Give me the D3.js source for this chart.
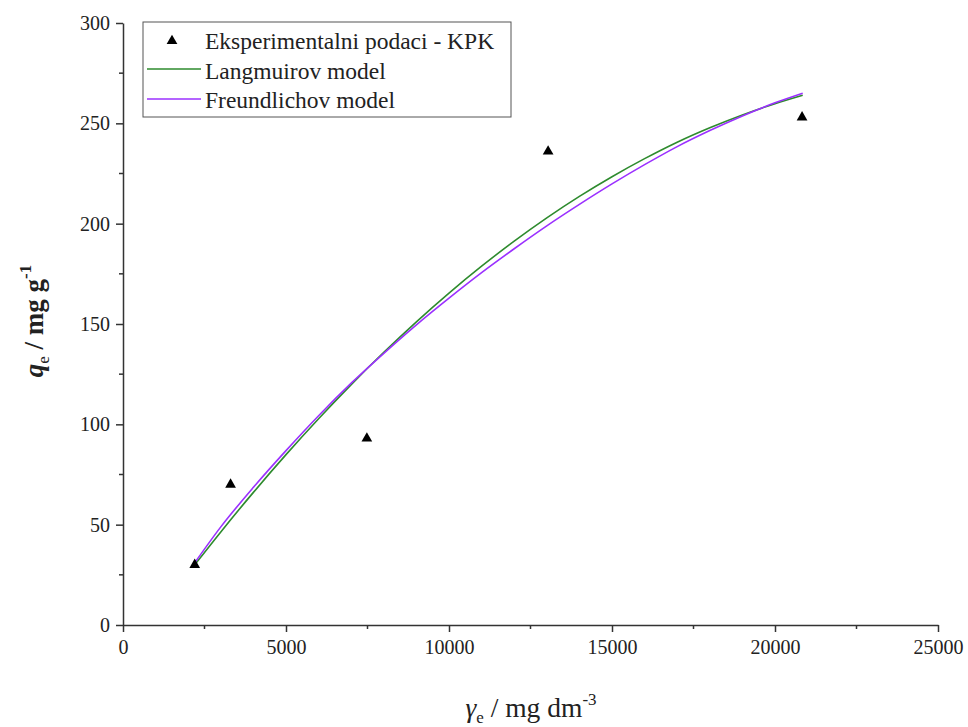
<!DOCTYPE html>
<html lang="hr">
  <head>
    <meta charset="UTF-8">
    <title>Adsorpcijske izoterme - KPK</title>
    <script src="https://d3js.org/d3.v7.min.js"></script>
    <style>
      body { margin: 0; background: #fff; }
      svg text { font-family: "Liberation Serif", "Times New Roman", "DejaVu Serif", serif; fill: #222; }
    </style>
  </head>
  <body>
    <script>
      // experimental points (gamma_e, q_e)
      const expX = [2200, 3300, 7480, 13040, 20830];
      const expY = [30, 70, 93, 236, 253];

      // model curves
      const modelX = [2200, 3000, 4000, 5000, 6000, 7000, 8000, 9000, 10000, 11000,
                      12000, 13000, 14000, 15000, 16000, 17000, 18000, 19000, 20000, 20850];
      const langmuirY = [30, 46.4, 66.1, 84.9, 102.8, 119.8, 135.9, 151.1, 165.4, 178.8,
                         191.3, 202.9, 213.6, 223.4, 232.4, 240.6, 247.8, 254.2, 259.8, 264];
      const freundlichY = [31, 48.9, 68.6, 86.9, 104.3, 120.5, 135.4, 149.6, 162.9, 175.6,
                           187.5, 198.9, 209.6, 219.8, 229.4, 238.4, 246.4, 253.7, 260.2, 265];

      const xTicks = [0, 5000, 10000, 15000, 20000, 25000];
      const yTicks = [0, 50, 100, 150, 200, 250, 300];

      const w = 968, h = 727;
      const mLeft = 123, mTop = 23, mRight = 938, mBottom = 625;

      const svg = d3.select("body").append("svg")
        .attr("width", w)
        .attr("height", h);

      const x = d3.scaleLinear().domain([0, 25000]).range([mLeft, mRight]);
      const y = d3.scaleLinear().domain([0, 300]).range([mBottom, mTop]);

      // minor ticks
      const xMinor = d3.range(2500, 25000, 5000);
      const yMinor = d3.range(25, 300, 50);

      const xAxis = svg.append("g")
        .attr("transform", `translate(0,${mBottom})`)
        .call(d3.axisBottom(x).tickValues(xTicks).tickSize(7).tickSizeOuter(0).tickPadding(8).tickFormat(d3.format("d")));
      xAxis.selectAll(".minor").data(xMinor).enter().append("line")
        .attr("class", "minor")
        .attr("x1", d => x(d)).attr("x2", d => x(d))
        .attr("y1", 0).attr("y2", 4)
        .attr("stroke", "#333");

      const yAxis = svg.append("g")
        .attr("transform", `translate(${mLeft},0)`)
        .call(d3.axisLeft(y).tickValues(yTicks).tickSize(7).tickSizeOuter(0).tickPadding(6));
      yAxis.selectAll(".minor").data(yMinor).enter().append("line")
        .attr("class", "minor")
        .attr("y1", d => y(d)).attr("y2", d => y(d))
        .attr("x1", 0).attr("x2", -4)
        .attr("stroke", "#333");

      svg.selectAll(".domain, .tick line").attr("stroke", "#333").attr("stroke-width", 1.5);
      svg.selectAll(".minor").attr("stroke-width", 1.5);
      svg.selectAll(".tick text").style("font-size", "20px").attr("fill", "#222");

      // curves
      const line = d3.line().curve(d3.curveMonotoneX);
      svg.append("path")
        .datum(modelX.map((d, i) => [x(d), y(langmuirY[i])]))
        .attr("d", line)
        .attr("fill", "none")
        .attr("stroke", "#2e8b2e")
        .attr("stroke-width", 1.6);
      svg.append("path")
        .datum(modelX.map((d, i) => [x(d), y(freundlichY[i])]))
        .attr("d", line)
        .attr("fill", "none")
        .attr("stroke", "#9b30ff")
        .attr("stroke-width", 1.6);

      // experimental triangles
      const tri = d3.symbol().type(d3.symbolTriangle).size(50);
      svg.selectAll(".pt").data(expX).enter().append("path")
        .attr("class", "pt")
        .attr("d", tri)
        .attr("transform", (d, i) => `translate(${x(d)},${y(expY[i])})`)
        .attr("fill", "#000");

      // legend
      const lg = svg.append("g").attr("transform", "translate(143,22)");
      lg.append("rect")
        .attr("width", 368).attr("height", 95)
        .attr("fill", "#fff").attr("stroke", "#555").attr("stroke-width", 1);
      lg.append("path").attr("d", tri).attr("transform", "translate(29,19)").attr("fill", "#000");
      lg.append("line").attr("x1", 4).attr("x2", 58).attr("y1", 47).attr("y2", 47)
        .attr("stroke", "#2e8b2e").attr("stroke-width", 1.6);
      lg.append("line").attr("x1", 4).attr("x2", 58).attr("y1", 77).attr("y2", 77)
        .attr("stroke", "#9b30ff").attr("stroke-width", 1.6);
      const labels = ["Eksperimentalni podaci - KPK", "Langmuirov model", "Freundlichov model"];
      lg.selectAll(".lt").data(labels).enter().append("text")
        .attr("class", "lt")
        .attr("x", 62)
        .attr("y", (d, i) => 27 + i * 29.5)
        .style("font-size", "23.5px")
        .text(d => d);

      // axis titles
      const xt = svg.append("text")
        .attr("x", 531).attr("y", 717)
        .attr("text-anchor", "middle")
        .style("font-size", "27.5px");
      xt.append("tspan").style("font-style", "italic").text("γ");
      xt.append("tspan").attr("dy", 6).style("font-size", "17px").text("e");
      xt.append("tspan").attr("dy", -6).text(" / mg dm");
      xt.append("tspan").attr("dy", -12).style("font-size", "17px").text("-3");

      const yt = svg.append("text")
        .attr("transform", "translate(43,321) rotate(-90)")
        .attr("text-anchor", "middle")
        .style("font-size", "27px");
      yt.append("tspan").style("font-style", "italic").style("font-weight", "bold").text("q");
      yt.append("tspan").attr("dy", 6).style("font-size", "17px").text("e");
      yt.append("tspan").attr("dy", -6).style("font-weight", "bold").text(" / mg g");
      yt.append("tspan").attr("dy", -12).style("font-size", "17px").style("font-weight", "bold").text("-1");
    </script>
  </body>
</html>
